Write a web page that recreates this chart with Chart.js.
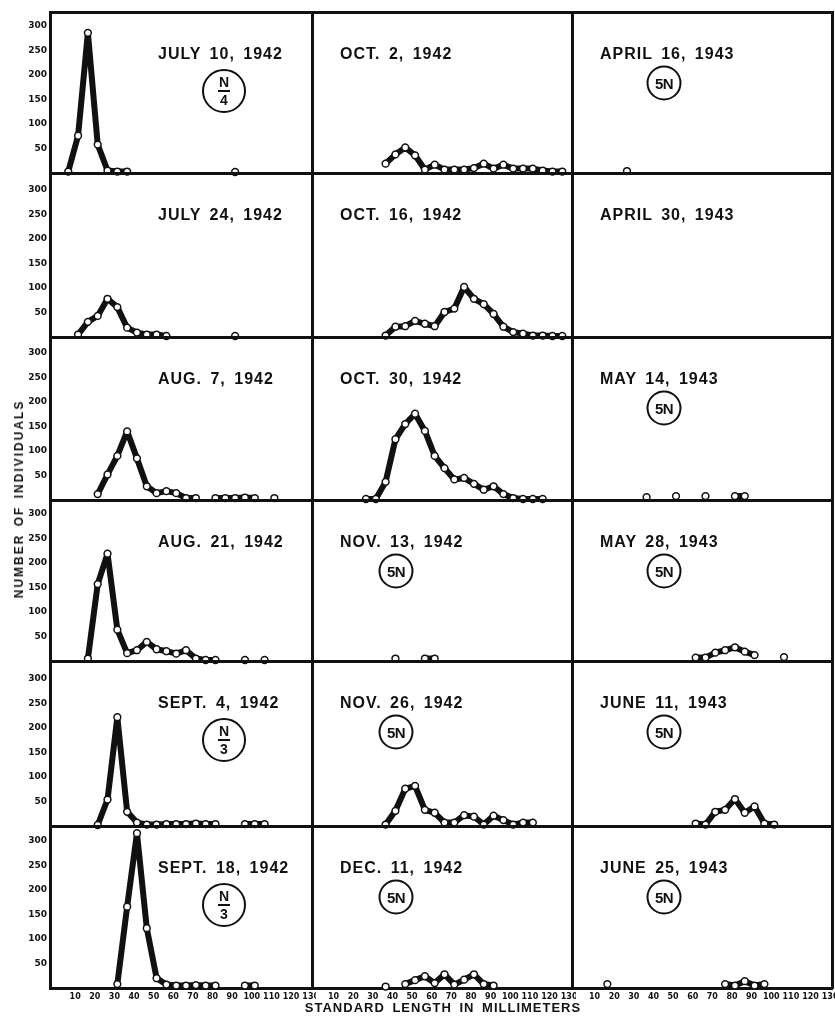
<!DOCTYPE html>
<html>
<head>
<meta charset="utf-8">
<script src="https://cdn.jsdelivr.net/npm/chart.js@4.4.1/dist/chart.umd.min.js"></script>
<style>
html,body{margin:0;padding:0;background:#fff;}
#wrap{position:relative;width:835px;height:1016px;overflow:hidden;background:#fff;}
#wrap canvas{position:absolute;}
.date{position:absolute;font:bold 16px "Liberation Sans",Arial,sans-serif;letter-spacing:1px;word-spacing:3px;white-space:nowrap;color:#111;transform:translateY(-50%);}
.frac{position:absolute;width:40px;height:40px;border:2.5px solid #111;border-radius:50%;display:flex;flex-direction:column;align-items:center;justify-content:center;transform:translate(-50%,-50%);font:bold 14px "Liberation Sans",Arial,sans-serif;line-height:1;color:#111;}
.frac .n{border-bottom:2.5px solid #111;padding:0 1px 1px;}
.frac .d{padding-top:1px;}
.five{position:absolute;width:31px;height:31px;border:2.5px solid #111;border-radius:50%;display:flex;align-items:center;justify-content:center;transform:translate(-50%,-50%);font:bold 15px "Liberation Sans",Arial,sans-serif;letter-spacing:-0.5px;color:#111;}
.ytitle{position:absolute;left:19px;top:499px;transform:translate(-50%,-50%) rotate(-90deg);font:bold 12px "Liberation Sans",Arial,sans-serif;letter-spacing:2px;word-spacing:2px;white-space:nowrap;color:#111;}
.xtitle{position:absolute;left:443px;top:1007px;transform:translate(-50%,-50%);font:bold 13px "Liberation Sans",Arial,sans-serif;letter-spacing:1px;word-spacing:3px;white-space:nowrap;color:#111;}
</style>
</head>
<body>
<div id="wrap"></div>
<script>
// ---- axis tick values ----
const xTicks = [10,20,30,40,50,60,70,80,90,100,110,120,130];
const yTicks = [50,100,150,200,250,300];

// ---- panel captions ----
const dateLabels = [
  ["JULY 10, 1942","OCT. 2, 1942","APRIL 16, 1943"],
  ["JULY 24, 1942","OCT. 16, 1942","APRIL 30, 1943"],
  ["AUG. 7, 1942","OCT. 30, 1942","MAY 14, 1943"],
  ["AUG. 21, 1942","NOV. 13, 1942","MAY 28, 1943"],
  ["SEPT. 4, 1942","NOV. 26, 1942","JUNE 11, 1943"],
  ["SEPT. 18, 1942","DEC. 11, 1942","JUNE 25, 1943"]
];
const sampleMarks = [
  ["N/4","","5N"],
  ["","",""],
  ["","","5N"],
  ["","5N","5N"],
  ["N/3","5N","5N"],
  ["N/3","5N","5N"]
];

// ---- series: standard length (mm) and number of individuals (null = gap) ----
const jul10Len = [6.5,11.5,16.5,21.5,26.5,31.5,36.5,41.5,91.5];
const jul10Num = [3,76,286,58,5,3,3,null,2];
const oct2Len = [36.5,41.5,46.5,51.5,56.5,61.5,66.5,71.5,76.5,81.5,86.5,91.5,96.5,101.5,106.5,111.5,116.5,121.5,126.5];
const oct2Num = [19,38,52,36,7,17,7,7,7,10,19,9,17,9,9,9,5,3,3];
const apr16Len = [26.5];
const apr16Num = [4];

const jul24Len = [11.5,16.5,21.5,26.5,31.5,36.5,41.5,46.5,51.5,56.5,61.5,91.5];
const jul24Num = [5,31,43,78,61,19,9,5,5,2,null,2];
const oct16Len = [36.5,41.5,46.5,51.5,56.5,61.5,66.5,71.5,76.5,81.5,86.5,91.5,96.5,101.5,106.5,111.5,116.5,121.5,126.5];
const oct16Num = [3,21,22,33,27,22,51,58,102,78,67,47,21,10,7,3,3,2,2];
const apr30Len = [];
const apr30Num = [];

const aug7Len = [21.5,26.5,31.5,36.5,41.5,46.5,51.5,56.5,61.5,66.5,71.5,76.5,81.5,86.5,91.5,96.5,101.5,106.5,111.5];
const aug7Num = [12,52,90,140,85,28,14,18,14,4,4,null,4,4,4,5,4,null,4];
const oct30Len = [26.5,31.5,36.5,41.5,46.5,51.5,56.5,61.5,66.5,71.5,76.5,81.5,86.5,91.5,96.5,101.5,106.5,111.5,116.5];
const oct30Num = [2,2,37,124,155,176,141,90,65,42,45,33,21,28,12,4,2,2,2];
const may14Len = [36.5,41.5,51.5,56.5,66.5,71.5,81.5,86.5];
const may14Num = [6,null,8,null,8,null,8,8];

const aug21Len = [16.5,21.5,26.5,31.5,36.5,41.5,46.5,51.5,56.5,61.5,66.5,71.5,76.5,81.5,86.5,96.5,101.5,106.5];
const aug21Num = [5,157,219,64,16,22,39,24,20,15,22,5,2,2,null,2,null,2];
const nov13Len = [41.5,46.5,56.5,61.5];
const nov13Num = [5,null,5,5];
const may28Len = [61.5,66.5,71.5,76.5,81.5,86.5,91.5,96.5,106.5];
const may28Num = [7,7,17,22,28,19,12,null,8];

const sep4Len = [21.5,26.5,31.5,36.5,41.5,46.5,51.5,56.5,61.5,66.5,71.5,76.5,81.5,86.5,96.5,101.5,106.5];
const sep4Num = [2,54,222,29,7,3,3,4,4,4,5,4,4,null,4,4,4];
const nov26Len = [36.5,41.5,46.5,51.5,56.5,61.5,66.5,71.5,76.5,81.5,86.5,91.5,96.5,101.5,106.5,111.5];
const nov26Num = [3,31,76,82,33,27,7,7,22,19,3,21,12,3,7,7];
const jun11Len = [61.5,66.5,71.5,76.5,81.5,86.5,91.5,96.5,101.5];
const jun11Num = [5,3,29,33,55,27,40,5,3];

const sep18Len = [31.5,36.5,41.5,46.5,51.5,56.5,61.5,66.5,71.5,76.5,81.5,86.5,96.5,101.5];
const sep18Num = [8,166,316,122,20,7,5,5,6,5,5,null,5,5];
const dec11Len = [36.5,41.5,46.5,51.5,56.5,61.5,66.5,71.5,76.5,81.5,86.5,91.5];
const dec11Num = [3,null,8,16,24,10,28,7,17,28,8,5];
const jun25Len = [16.5,21.5,76.5,81.5,86.5,91.5,96.5];
const jun25Num = [8,null,8,5,14,5,8];

const seriesGrid = [
  [[jul10Len,jul10Num],[oct2Len,oct2Num],[apr16Len,apr16Num]],
  [[jul24Len,jul24Num],[oct16Len,oct16Num],[apr30Len,apr30Num]],
  [[aug7Len,aug7Num],[oct30Len,oct30Num],[may14Len,may14Num]],
  [[aug21Len,aug21Num],[nov13Len,nov13Num],[may28Len,may28Num]],
  [[sep4Len,sep4Num],[nov26Len,nov26Num],[jun11Len,jun11Num]],
  [[sep18Len,sep18Num],[dec11Len,dec11Num],[jun25Len,jun25Num]]
];

// ---- layout (pixels) ----
const colLeft = [50,312,572];
const colRight = [312,572,832];
const rowTop = [12,173,337,500,661,826];
const rowBottom = [173,337,500,661,826,988];
const xMin = [-2.8,-1,-1.5];
const pxPerMm = 1.963;
const pxPerUnit = 0.49;
const INK = '#111';

const wrap = document.getElementById('wrap');

for (let r = 0; r < 6; r++) {
  for (let c = 0; c < 3; c++) {
    const W = colRight[c] - colLeft[c];
    const H = rowBottom[r] - rowTop[r];
    const L = c === 0 ? 50 : 4;
    const T = 4, R = 4;
    const B = r === 5 ? 28 : 4;
    const cv = document.createElement('canvas');
    cv.width = L + W + R;
    cv.height = T + H + B;
    cv.style.left = (colLeft[c] - L) + 'px';
    cv.style.top = (rowTop[r] - T) + 'px';
    cv.style.width = cv.width + 'px';
    cv.style.height = cv.height + 'px';
    wrap.appendChild(cv);

    const [lens, nums] = seriesGrid[r][c];
    const pts = lens.map((x, i) => ({x: x, y: nums[i]}));
    const xmin = xMin[c];
    const xmax = xmin + W / pxPerMm;
    const ymax = H / pxPerUnit;

    new Chart(cv, {
      type: 'line',
      data: {
        datasets: [{
          data: pts,
          borderColor: INK,
          borderWidth: 6,
          borderJoinStyle: 'round',
          borderCapStyle: 'round',
          pointRadius: 3.4,
          pointBorderWidth: 1.5,
          pointBackgroundColor: '#fff',
          pointBorderColor: INK,
          tension: 0,
          spanGaps: false,
          clip: false
        }]
      },
      options: {
        responsive: false,
        animation: false,
        events: [],
        devicePixelRatio: 1,
        layout: {autoPadding: false, padding: {top: T, right: R, left: 0, bottom: 0}},
        plugins: {legend: {display: false}, tooltip: {enabled: false}, title: {display: false}},
        scales: {
          x: {
            type: 'linear', position: 'bottom', min: xmin, max: xmax,
            afterBuildTicks: s => { s.ticks = xTicks.map(v => ({value: v})); },
            ticks: {display: r === 5, autoSkip: false, maxRotation: 0, padding: 4,
                    color: INK, font: {family: 'DejaVu Sans', weight: 'bold', size: 8}},
            grid: {display: false, drawTicks: false},
            border: {display: true, width: 3, color: INK},
            afterFit: s => { s.height = B; s.paddingLeft = 0; s.paddingRight = 0; }
          },
          y: {
            type: 'linear', position: 'left', min: 0, max: ymax,
            afterBuildTicks: s => { s.ticks = yTicks.map(v => ({value: v})); },
            ticks: {display: c === 0, padding: 3, color: INK,
                    font: {family: 'DejaVu Sans', weight: 'bold', size: 9}},
            grid: {display: false, drawTicks: false},
            border: {display: true, width: 3, color: INK},
            afterFit: s => { s.width = L; s.paddingTop = 0; s.paddingBottom = 0; }
          },
          xTop: {
            type: 'linear', position: 'top', min: xmin, max: xmax,
            ticks: {display: false}, grid: {display: false, drawTicks: false},
            border: {display: true, width: 3, color: INK},
            afterFit: s => { s.height = 0; s.paddingLeft = 0; s.paddingRight = 0; }
          },
          yRight: {
            type: 'linear', position: 'right', min: 0, max: ymax,
            ticks: {display: false}, grid: {display: false, drawTicks: false},
            border: {display: true, width: 3, color: INK},
            afterFit: s => { s.width = 0; s.paddingTop = 0; s.paddingBottom = 0; }
          }
        }
      }
    });

    // caption
    const textLeft = c === 0 ? colLeft[c] + 108 : colLeft[c] + 28;
    const textY = rowTop[r] + 42;
    const d = document.createElement('div');
    d.className = 'date';
    d.textContent = dateLabels[r][c];
    d.style.left = textLeft + 'px';
    d.style.top = textY + 'px';
    wrap.appendChild(d);

    const m = sampleMarks[r][c];
    if (m === '5N') {
      const e = document.createElement('div');
      e.className = 'five';
      e.textContent = '5N';
      e.style.left = (textLeft + (c === 1 ? 56 : 64)) + 'px';
      e.style.top = (textY + 29) + 'px';
      wrap.appendChild(e);
    } else if (m) {
      const parts = m.split('/');
      const e = document.createElement('div');
      e.className = 'frac';
      const n = document.createElement('span'); n.className = 'n'; n.textContent = parts[0];
      const dd = document.createElement('span'); dd.className = 'd'; dd.textContent = parts[1];
      e.appendChild(n); e.appendChild(dd);
      e.style.left = (colLeft[c] + 174) + 'px';
      e.style.top = (textY + 37) + 'px';
      wrap.appendChild(e);
    }
  }
}

const yt = document.createElement('div');
yt.className = 'ytitle';
yt.textContent = 'NUMBER OF INDIVIDUALS';
wrap.appendChild(yt);

const xt = document.createElement('div');
xt.className = 'xtitle';
xt.textContent = 'STANDARD LENGTH IN MILLIMETERS';
wrap.appendChild(xt);
</script>
</body>
</html>
